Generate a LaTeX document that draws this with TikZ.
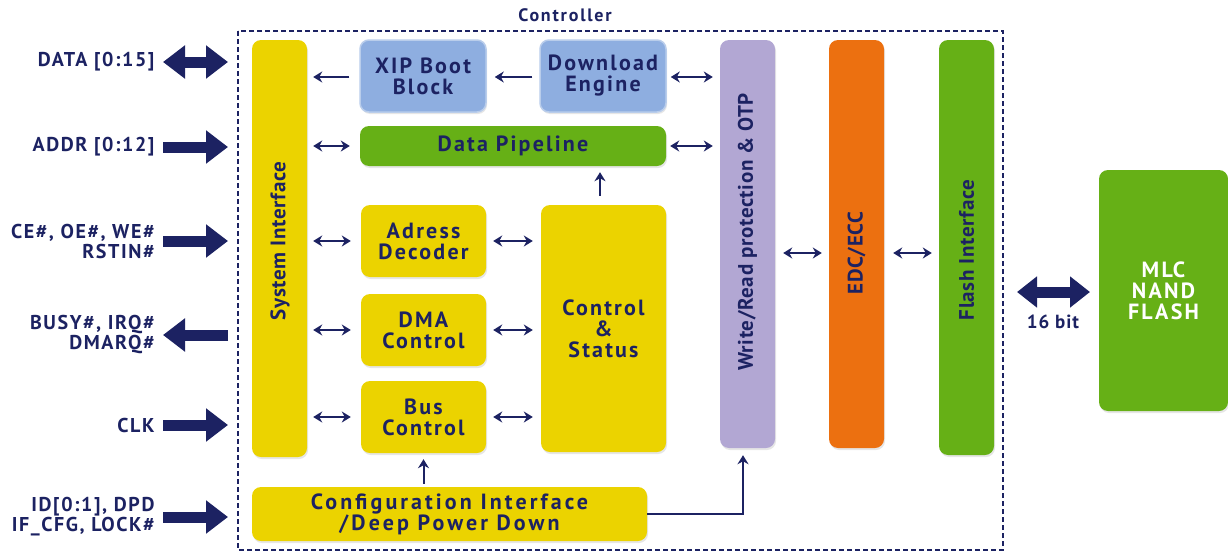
\documentclass[tikz,border=0pt]{standalone}
\usepackage{fontspec}
\setmainfont{PT Sans}
\usetikzlibrary{arrows.meta,calc,shadows}
\definecolor{navy}{HTML}{1C2262}
\definecolor{yel}{HTML}{EBD300}
\definecolor{blu}{HTML}{8EAEE0}
\definecolor{bluedge}{HTML}{B9CDEB}
\definecolor{grn}{HTML}{66B016}
\definecolor{lav}{HTML}{B2A7D3}
\definecolor{org}{HTML}{EC7010}
\newcommand\blkfont{\bfseries\fontsize{22}{21}\selectfont\addfontfeatures{LetterSpace=10}}
\begin{document}
\begin{tikzpicture}[x=1pt,y=-1pt,
  blk/.style={rounded corners=9pt, inner sep=0pt, text=navy, align=center,
    font=\blkfont,
    drop shadow={opacity=0.2, shadow xshift=1pt, shadow yshift=-2pt}},
  ybox/.style={blk, fill=yel},
  bbox/.style={blk, fill=blu, draw=bluedge, line width=1.5pt},
  gbox/.style={blk, fill=grn},
  lbox/.style={blk, fill=lav},
  obox/.style={blk, fill=org},
  vlab/.style={rotate=90, text=navy, font=\bfseries\fontsize{21}{21}\selectfont\addfontfeatures{LetterSpace=3}},
  sig/.style={anchor=east, align=right, text=navy, font=\bfseries\fontsize{20}{20}\selectfont\addfontfeatures{LetterSpace=8}},
  tarr/.style={navy, line width=2pt, -{Stealth[length=9pt,width=11pt]}},
  tdarr/.style={navy, line width=2pt, {Stealth[length=9pt,width=11pt]}-{Stealth[length=9pt,width=11pt]}},
  fat/.style={navy, line width=11pt, -{Triangle[length=22pt,width=32pt]}},
  fatd/.style={navy, line width=11pt, {Triangle[length=22pt,width=32pt]}-{Triangle[length=22pt,width=32pt]}}]
\useasboundingbox (0,0) rectangle (1228,554);

% controller frame
\node[text=navy, font=\bfseries\fontsize{18}{18}\selectfont\addfontfeatures{LetterSpace=10}] (ctl) at (565,15) {Controller};
\draw[navy, line width=1.5pt, dash pattern=on 5pt off 3pt] (238,31) rectangle (1003,550);

% blocks
\node[ybox, minimum width=55, minimum height=417] (sysif) at (279.5,248.5) {};
\node[vlab] (sysiflab) at (280,241) {System Interface};
\node[bbox, minimum width=126, minimum height=72] (xip) at (423,76) {XIP Boot\\Block};
\node[bbox, minimum width=126, minimum height=72] (dl) at (603,76) {Download\\Engine};
\node[gbox, minimum width=306, minimum height=40] (pipe) at (513,146) {Data Pipeline};
\node[ybox, minimum width=125, minimum height=72] (adec) at (423.5,241) {Adress\\Decoder};
\node[ybox, minimum width=125, minimum height=72] (dma) at (423.5,330) {DMA\\Control};
\node[ybox, minimum width=125, minimum height=72] (bus) at (423.5,417) {Bus\\Control};
\node[ybox, minimum width=125, minimum height=247] (cs) at (603.5,328.5) {Control\\\&\\Status};
\node[ybox, minimum width=395, minimum height=54, font=\bfseries\fontsize{22}{21}\selectfont\addfontfeatures{LetterSpace=14}] (cfg) at (449.5,514) {Configuration Interface\\/Deep Power Down};
\node[lbox, minimum width=55, minimum height=408] (wr) at (747.5,244) {};
\node[vlab] (wrlab) at (747.5,232) {Write/Read protection \& OTP};
\node[obox, minimum width=55, minimum height=408] (edc) at (856.5,244) {};
\node[vlab] (edclab) at (856.5,253) {EDC/ECC};
\node[gbox, minimum width=55, minimum height=415] (flash) at (966.5,247.5) {};
\node[vlab] (flashlab) at (966.5,250) {Flash Interface};
\node[gbox, text=white, minimum width=129, minimum height=241] (nand) at (1163.5,290.5) {MLC\\NAND\\FLASH};

% external signals
\node[sig] (s1) at (158,62) {DATA [0:15]};
\node[sig] (s2) at (158,147) {ADDR [0:12]};
\node[sig] (s3) at (158,241) {CE\#, OE\#, WE\#\\RSTIN\#};
\node[sig] (s4) at (158,335) {BUSY\#, IRQ\#\\DMARQ\#};
\node[sig] (s5) at (158,425) {CLK};
\node[sig] (s6) at (158,517) {ID[0:1], DPD\\IF\_CFG, LOCK\#};
\coordinate (e1) at (228,62);
\coordinate (e2) at (228,147);
\coordinate (e3) at (228,241);
\coordinate (e4) at (228,335);
\coordinate (e5) at (228,425);
\coordinate (e6) at (228,517);
\coordinate (b1) at (163,62);
\coordinate (b2) at (163,147);
\coordinate (b3) at (163,241);
\coordinate (b4) at (163,335);
\coordinate (b5) at (163,425);
\coordinate (b6) at (163,517);
\draw[fatd] (b1) -- (e1);
\draw[fat] (b2) -- (e2);
\draw[fat] (b3) -- (e3);
\draw[fat] (e4) -- (b4);
\draw[fat] (b5) -- (e5);
\draw[fat] (b6) -- (e6);

% internal arrows
\draw[tarr, shorten >=6pt, shorten <=10pt] (xip.west|-0,77) -- (sysif.east|-0,77);
\draw[tarr, shorten >=8pt, shorten <=7pt] (dl.west|-0,77) -- (xip.east|-0,77);
\draw[tdarr, shorten >=7pt, shorten <=4pt] (dl.east|-0,77) -- (wr.west|-0,77);
\draw[tdarr, shorten >=10pt, shorten <=6pt] (sysif.east|-pipe.west) -- (pipe.west);
\draw[tdarr, shorten >=7pt, shorten <=4pt] (pipe.east) -- (wr.west|-pipe.east);
\draw[tdarr, shorten >=10pt, shorten <=6pt] (sysif.east|-adec.west) -- (adec.west);
\draw[tdarr, shorten >=8pt, shorten <=7pt] (adec.east) -- (cs.west|-adec.east);
\draw[tdarr, shorten >=10pt, shorten <=6pt] (sysif.east|-dma.west) -- (dma.west);
\draw[tdarr, shorten >=8pt, shorten <=7pt] (dma.east) -- (cs.west|-dma.east);
\draw[tdarr, shorten >=10pt, shorten <=6pt] (sysif.east|-bus.west) -- (bus.west);
\draw[tdarr, shorten >=8pt, shorten <=7pt] (bus.east) -- (cs.west|-bus.east);
\draw[tarr, shorten >=6pt, shorten <=9pt] (cs.north-|600,0) -- (pipe.south-|600,0);
\draw[tarr, shorten >=6pt, shorten <=3pt] (cfg.north-|bus.south) -- (bus.south);
\draw[tarr, shorten >=7pt] (cfg.east) -- (743,514) -- (wr.south-|743,0);
\draw[tdarr, shorten >=7pt, shorten <=8pt] (wr.east|-0,253) -- (edc.west|-0,253);
\draw[tdarr, shorten >=7pt, shorten <=9pt] (edc.east|-0,253) -- (flash.west|-0,253);
\coordinate (f1) at (1017,292);
\coordinate (f2) at (1090,292);
\draw[navy, line width=11pt, {Triangle[length=20pt,width=30pt]}-{Triangle[length=20pt,width=30pt]}] (f1) -- (f2);
\node[text=navy, font=\bfseries\fontsize{19}{18}\selectfont\addfontfeatures{LetterSpace=5}] (bits) at (1053,322) {16 bit};
\end{tikzpicture}
\end{document}
